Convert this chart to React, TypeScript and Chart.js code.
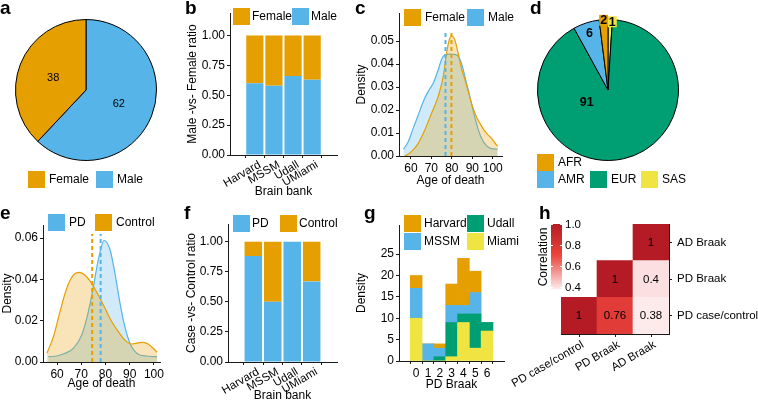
import React, { useEffect, useRef } from "react";
import { Chart, registerables } from "chart.js";

Chart.register(...registerables);

const FONT = "'Liberation Sans', Arial, Helvetica, sans-serif";
Chart.defaults.font.family = FONT;
Chart.defaults.color = "#000";

const ORANGE = "#E69F00";
const BLUE = "#56B4E9";
const GREEN = "#009E73";
const YELLOW = "#F0E442";
const ORANGE_FILL = "rgba(230,159,0,0.28)";
const BLUE_FILL = "rgba(86,180,233,0.28)";
const AXIS_COLOR = "#1a1a1a";

// ---------- a: sex ----------
const sexLabels = ["Male", "Female"];
const sexCounts = [62, 38];

// ---------- b: male vs female ratio per brain bank ----------
const banks = ["Harvard", "MSSM", "Udall", "UMiami"];
const maleRatio = [0.6, 0.58, 0.66, 0.63];
const femaleRatio = [0.4, 0.42, 0.34, 0.37];
const ratioTicks = [0, 0.25, 0.5, 0.75, 1];

// ---------- c: age of death by sex ----------
const femaleAge = [57.1, 60.3, 63.6, 66.8, 70.1, 73.3, 75.8, 77.4, 79.0, 80.1, 81.5, 83.1, 84.7, 87.2, 89.6, 92.0, 94.5, 96.9, 99.4, 101.8, 102.4];
const femaleDensity = [0.0, 0.0019, 0.0055, 0.0113, 0.0186, 0.0258, 0.0345, 0.0447, 0.0512, 0.0522, 0.0504, 0.0447, 0.0381, 0.0309, 0.0229, 0.0171, 0.013, 0.0099, 0.0077, 0.0048, 0.0042];
const maleAge = [56.4, 58.7, 61.1, 63.6, 66.0, 68.4, 70.9, 73.3, 75.0, 76.6, 79.0, 82.3, 84.7, 87.2, 89.6, 92.0, 94.5, 96.9, 99.4, 102.4];
const maleDensity = [0.0029, 0.0062, 0.012, 0.0178, 0.0236, 0.028, 0.0316, 0.0374, 0.042, 0.044, 0.0443, 0.044, 0.0403, 0.0316, 0.0229, 0.0142, 0.0077, 0.0045, 0.0032, 0.003];
const meanAgeFemale = 79.8;
const meanAgeMale = 76.9;
const sexDensityTicks = [0, 0.01, 0.02, 0.03, 0.04, 0.05];
const ageTicks = [60, 70, 80, 90, 100];

// ---------- d: ancestry ----------
const ancestry = ["SAS", "EUR", "AMR", "AFR"];
const ancestryPct = [1, 91, 6, 2];

// ---------- e: age of death by diagnosis ----------
const pdAge = [56.4, 59.9, 63.3, 66.7, 70.2, 72.9, 75.0, 77.0, 79.4, 81.9, 83.9, 86.0, 88.0, 90.1, 92.2, 94.2, 97.0, 100.4, 101.3];
const pdDensity = [0.0026, 0.0029, 0.0042, 0.0066, 0.0131, 0.0243, 0.0364, 0.0493, 0.0588, 0.0542, 0.0429, 0.0284, 0.0171, 0.009, 0.005, 0.0034, 0.0029, 0.0026, 0.0026];
const controlAge = [55.8, 58.5, 61.2, 64.0, 66.7, 69.2, 71.5, 74.3, 77.0, 79.8, 82.6, 85.3, 88.0, 90.8, 93.5, 95.6, 97.6, 100.4, 101.3];
const controlDensity = [0.0042, 0.0122, 0.0243, 0.0357, 0.0421, 0.0434, 0.0421, 0.038, 0.0324, 0.026, 0.0195, 0.0147, 0.0106, 0.0087, 0.0093, 0.0095, 0.0087, 0.0058, 0.0047];
const meanAgePD = 78.0;
const meanAgeControl = 74.5;
const diagDensityTicks = [0, 0.02, 0.04, 0.06];

// ---------- f: case vs control ratio per brain bank ----------
const pdRatio = [0.88, 0.5, 1.0, 0.67];
const controlRatio = [0.12, 0.5, 0.0, 0.33];

// ---------- g: PD Braak stage by bank ----------
const braakStages = [0, 1, 2, 3, 4, 5, 6];
const miamiCounts = [10, 0, 0, 1, 9, 3, 7];
const udallCounts = [0, 0, 1, 8, 2, 8, 2];
const mssmCounts = [7, 4, 2, 4, 2, 5, 0];
const harvardCounts = [3, 0, 1, 5, 11, 5, 0];
const braakCountTicks = [0, 5, 10, 15, 20, 25];

// ---------- h: correlation ----------
const traits = ["PD case/control", "PD Braak", "AD Braak"];
const corrPDCase = [1, 0.76, 0.38];
const corrPDBraak = [null, 1, 0.4];
const corrADBraak = [null, null, 1];
const corrRows = [corrPDCase, corrPDBraak, corrADBraak];
const corrBarTicks = [0.4, 0.6, 0.8, 1.0];
const corrMin = 0.38;
const corrMax = 1.0;

// ---------- helpers ----------
const TICK_FONT = { family: FONT, size: 12 };
const ROT_TICK_FONT = { family: FONT, size: 11.5 };
const TITLE_FONT = { family: FONT, size: 12 };

function corrColor(v: number): string {
  const stops: [number, number[]][] = [
    [0.37, [254, 240, 242]],
    [0.7, [236, 68, 60]],
    [1.0, [180, 27, 36]],
  ];
  if (v <= stops[0][0]) return `rgb(${stops[0][1].join(",")})`;
  for (let i = 1; i < stops.length; i++) {
    if (v <= stops[i][0]) {
      const [v0, c0] = stops[i - 1];
      const [v1, c1] = stops[i];
      const t = (v - v0) / (v1 - v0);
      const c = c0.map((x, k) => Math.round(x + (c1[k] - x) * t));
      return `rgb(${c.join(",")})`;
    }
  }
  return `rgb(${stops[stops.length - 1][1].join(",")})`;
}

function linAxis(o: {
  min: number; max: number; ticks: number[]; fmt: (v: number) => string; title?: string;
  size: number; horizontal?: boolean; position?: string; rotate?: number; stacked?: boolean; labelOffset?: number; padding?: number; font?: any;
}) {
  return {
    type: "linear",
    min: o.min,
    max: o.max,
    stacked: !!o.stacked,
    position: o.position,
    afterBuildTicks: (s: any) => {
      s.ticks = o.ticks.map((v) => ({ value: v }));
    },
    afterFit: (s: any) => {
      if (o.horizontal) s.height = o.size;
      else s.width = o.size;
    },
    ticks: {
      autoSkip: false,
      font: o.font || TICK_FONT,
      color: "#000",
      padding: o.padding != null ? o.padding : 2,
      labelOffset: o.labelOffset || 0,
      minRotation: o.rotate || 0,
      maxRotation: o.rotate || 0,
      callback: (v: any) => o.fmt(Number(v)),
    },
    grid: { display: true, drawOnChartArea: false, drawTicks: true, tickLength: 3, color: AXIS_COLOR, lineWidth: 1 },
    border: { display: true, color: AXIS_COLOR, width: 1 },
    title: { display: !!o.title, text: o.title || "", font: TITLE_FONT, color: "#000", padding: 0 },
  };
}

function baseOptions(padding: any, scales?: any, extra: any = {}) {
  const o: any = {
    responsive: false,
    animation: false,
    devicePixelRatio: 1,
    events: [],
    layout: { padding },
    plugins: { legend: { display: false }, tooltip: { enabled: false } },
    ...extra,
  };
  if (scales) o.scales = scales;
  return o;
}

type LegendItem = { text: string; color: string; x: number; y: number };
function boxLegend(items: LegendItem[], bg?: [number, number, number, number], gap = 4) {
  return {
    id: "boxLegend",
    afterDraw(chart: any) {
      const ctx = chart.ctx;
      ctx.save();
      if (bg) {
        ctx.fillStyle = "#fff";
        ctx.fillRect(bg[0], bg[1], bg[2], bg[3]);
      }
      ctx.font = `12px ${FONT}`;
      ctx.textBaseline = "middle";
      ctx.textAlign = "left";
      for (const it of items) {
        ctx.fillStyle = it.color;
        ctx.fillRect(it.x, it.y, 17, 17);
        ctx.fillStyle = "#000";
        ctx.fillText(it.text, it.x + 17 + gap, it.y + 9);
      }
      ctx.restore();
    },
  };
}

type SliceSpec = { r: number; deg?: number; box?: boolean };
function sliceLabels(specs: SliceSpec[], font: string) {
  return {
    id: "sliceLabels",
    afterDatasetsDraw(chart: any) {
      const ctx = chart.ctx;
      const meta = chart.getDatasetMeta(0);
      const ds = chart.data.datasets[0];
      ctx.save();
      ctx.font = font;
      ctx.textAlign = "center";
      ctx.textBaseline = "middle";
      meta.data.forEach((arc: any, i: number) => {
        const p = arc.getProps(["x", "y", "startAngle", "endAngle", "outerRadius"], true);
        const s = specs[i];
        const ang = s.deg != null ? ((s.deg - 90) * Math.PI) / 180 : (p.startAngle + p.endAngle) / 2;
        const px = p.x + Math.cos(ang) * p.outerRadius * s.r;
        const py = p.y + Math.sin(ang) * p.outerRadius * s.r;
        const txt = String(ds.data[i]);
        if (s.box) {
          const w = ctx.measureText(txt).width + 2;
          ctx.fillStyle = ds.backgroundColor[i];
          ctx.fillRect(px - w / 2, py - 5.5, w, 11);
        }
        ctx.fillStyle = "#000";
        ctx.fillText(txt, px, py + 0.5);
      });
      ctx.restore();
    },
  };
}

function densityDs(xs: number[], ys: number[], color: string, fill: string) {
  return {
    data: xs.map((x, i) => ({ x, y: ys[i] })),
    borderColor: color,
    backgroundColor: fill,
    borderWidth: 1.2,
    fill: "origin",
    pointRadius: 0,
    cubicInterpolationMode: "monotone",
  };
}

function vline(x: number, top: number, color: string) {
  return {
    data: [
      { x, y: 0 },
      { x, y: top },
    ],
    borderColor: color,
    borderWidth: 2,
    borderDash: [4, 3],
    pointRadius: 0,
    fill: false,
  };
}

const heatCells = {
  id: "heatCells",
  afterDatasetsDraw(chart: any) {
    const ctx = chart.ctx;
    ctx.save();
    ctx.font = `11.5px ${FONT}`;
    ctx.fillStyle = "#000";
    ctx.textAlign = "center";
    ctx.textBaseline = "middle";
    corrRows.forEach((row, di) => {
      const meta = chart.getDatasetMeta(di);
      meta.data.forEach((el: any, i: number) => {
        const v = row[i];
        if (v == null) return;
        const p = el.getProps(["x", "y", "base"], true);
        ctx.fillText(String(v), p.x, (p.y + p.base) / 2 + 0.5);
      });
    });
    ctx.restore();
  },
};

const colorBar = {
  id: "colorBar",
  afterDraw(chart: any) {
    const ctx = chart.ctx;
    const x0 = 551, x1 = 562, y0 = 224, y1 = 289;
    const yOf = (v: number) => y0 + ((corrMax - v) / (corrMax - corrMin)) * (y1 - y0);
    ctx.save();
    const g = ctx.createLinearGradient(0, y0, 0, y1);
    for (let k = 0; k <= 20; k++) {
      const v = corrMax - ((corrMax - corrMin) * k) / 20;
      g.addColorStop(k / 20, corrColor(v));
    }
    ctx.fillStyle = g;
    ctx.fillRect(x0, y0, x1 - x0, y1 - y0);
    ctx.strokeStyle = "#fff";
    ctx.lineWidth = 1;
    ctx.font = `11.5px ${FONT}`;
    ctx.fillStyle = "#000";
    ctx.textAlign = "left";
    ctx.textBaseline = "middle";
    for (const v of corrBarTicks) {
      const y = Math.round(yOf(v)) + 0.5;
      ctx.beginPath();
      ctx.moveTo(x0, y);
      ctx.lineTo(x0 + 2, y);
      ctx.moveTo(x1 - 2, y);
      ctx.lineTo(x1, y);
      ctx.stroke();
      ctx.fillText(v.toFixed(1), x1 + 3, y);
    }
    ctx.translate(544, 257);
    ctx.rotate(-Math.PI / 2);
    ctx.textAlign = "center";
    ctx.font = `12px ${FONT}`;
    ctx.fillText("Correlation", 0, 0);
    ctx.restore();
  },
};

function makeConfigs(): any[] {
  const barDefaults = { bar: { barPercentage: 0.9, categoryPercentage: 1, borderWidth: 0 } };

  const a = {
    type: "pie",
    data: {
      labels: sexLabels,
      datasets: [{ data: sexCounts, backgroundColor: [BLUE, ORANGE], borderColor: "#000", borderWidth: 1, hoverOffset: 0, offset: 0 }],
    },
    options: baseOptions({ left: 15, top: 19, right: 601, bottom: 242 }),
    plugins: [
      sliceLabels([{ r: 0.5 }, { r: 0.5 }], `11px ${FONT}`),
      boxLegend([
        { text: "Female", color: ORANGE, x: 28, y: 171 },
        { text: "Male", color: BLUE, x: 96, y: 171 },
      ]),
    ],
  };

  const b = {
    type: "bar",
    data: {
      datasets: [
        { label: "Male", data: banks.map((_, i) => ({ x: i + 1, y: maleRatio[i] })), backgroundColor: BLUE },
        { label: "Female", data: banks.map((_, i) => ({ x: i + 1, y: femaleRatio[i] })), backgroundColor: ORANGE },
      ],
    },
    options: baseOptions(
      { left: 185, top: 13, right: 421, bottom: 204 },
      {
        x: linAxis({ min: 0.4, max: 4.6, ticks: [1, 2, 3, 4], fmt: (v) => banks[v - 1] || "", title: "Brain bank", size: 44, horizontal: true, rotate: 30, stacked: true, labelOffset: 5, padding: 0, font: ROT_TICK_FONT }),
        y: linAxis({ min: 0, max: 1.188, ticks: ratioTicks, fmt: (v) => v.toFixed(2), title: "Male -vs- Female ratio", size: 45, stacked: true }),
      },
      { datasets: barDefaults }
    ),
    plugins: [
      boxLegend(
        [
          { text: "Female", color: ORANGE, x: 233, y: 8 },
          { text: "Male", color: BLUE, x: 292, y: 8 },
        ],
        undefined,
        2
      ),
    ],
  };

  const c = {
    type: "line",
    data: {
      datasets: [
        vline(meanAgeMale, 0.0622, BLUE),
        vline(meanAgeFemale, 0.0622, ORANGE),
        densityDs(femaleAge, femaleDensity, ORANGE, ORANGE_FILL),
        densityDs(maleAge, maleDensity, BLUE, BLUE_FILL),
      ],
    },
    options: baseOptions(
      { left: 354, top: 13, right: 256, bottom: 215 },
      {
        x: linAxis({ min: 54.2, max: 104.5, ticks: ageTicks, fmt: (v) => String(v), title: "Age of death", size: 32, horizontal: true }),
        y: linAxis({ min: 0, max: 0.0622, ticks: sexDensityTicks, fmt: (v) => v.toFixed(2), title: "Density", size: 45 }),
      }
    ),
    plugins: [
      boxLegend(
        [
          { text: "Female", color: ORANGE, x: 404, y: 9 },
          { text: "Male", color: BLUE, x: 467, y: 9 },
        ],
        [401, 0, 125, 30]
      ),
    ],
  };

  const d = {
    type: "pie",
    data: {
      labels: ancestry,
      datasets: [{ data: ancestryPct, backgroundColor: [YELLOW, GREEN, BLUE, ORANGE], borderColor: "#000", borderWidth: 1, hoverOffset: 0, offset: 0 }],
    },
    options: baseOptions({ left: 537, top: 19, right: 79, bottom: 242 }),
    plugins: [
      sliceLabels(
        [
          { r: 0.97, deg: 3.6, box: true },
          { r: 0.35, deg: 240 },
          { r: 0.85 },
          { r: 0.99, box: true },
        ],
        `bold 12.5px ${FONT}`
      ),
      boxLegend(
        [
          { text: "AFR", color: ORANGE, x: 537, y: 154 },
          { text: "AMR", color: BLUE, x: 537, y: 171 },
          { text: "EUR", color: GREEN, x: 590, y: 171 },
          { text: "SAS", color: YELLOW, x: 641, y: 171 },
        ]
      ),
    ],
  };

  const e = {
    type: "line",
    data: {
      datasets: [
        vline(meanAgePD, 0.0663, BLUE),
        vline(meanAgeControl, 0.0663, ORANGE),
        densityDs(controlAge, controlDensity, ORANGE, ORANGE_FILL),
        densityDs(pdAge, pdDensity, BLUE, BLUE_FILL),
      ],
    },
    options: baseOptions(
      { left: 0, top: 225, right: 598, bottom: 12 },
      {
        x: linAxis({ min: 54.2, max: 102.5, ticks: ageTicks, fmt: (v) => String(v), title: "Age of death", size: 29, horizontal: true }),
        y: linAxis({ min: 0, max: 0.0663, ticks: diagDensityTicks, fmt: (v) => v.toFixed(2), title: "Density", size: 43 }),
      }
    ),
    plugins: [
      boxLegend(
        [
          { text: "PD", color: BLUE, x: 48, y: 214 },
          { text: "Control", color: ORANGE, x: 95, y: 214 },
        ],
        [45, 205, 125, 29]
      ),
    ],
  };

  const f = {
    type: "bar",
    data: {
      datasets: [
        { label: "PD", data: banks.map((_, i) => ({ x: i + 1, y: pdRatio[i] })), backgroundColor: BLUE },
        { label: "Control", data: banks.map((_, i) => ({ x: i + 1, y: controlRatio[i] })), backgroundColor: ORANGE },
      ],
    },
    options: baseOptions(
      { left: 184, top: 224, right: 421, bottom: 0 },
      {
        x: linAxis({ min: 0.4, max: 4.6, ticks: [1, 2, 3, 4], fmt: (v) => banks[v - 1] || "", title: "Brain bank", size: 41, horizontal: true, rotate: 30, stacked: true, labelOffset: 5, padding: 0, font: ROT_TICK_FONT }),
        y: linAxis({ min: 0, max: 1.147, ticks: ratioTicks, fmt: (v) => v.toFixed(2), title: "Case -vs- Control ratio", size: 44, stacked: true }),
      },
      { datasets: barDefaults }
    ),
    plugins: [
      boxLegend(
        [
          { text: "PD", color: BLUE, x: 233, y: 215 },
          { text: "Control", color: ORANGE, x: 280, y: 215 },
        ],
        undefined,
        2
      ),
    ],
  };

  const gds = (label: string, counts: number[], color: string) => ({
    label,
    data: braakStages.map((s, i) => ({ x: s, y: counts[i] })),
    backgroundColor: color,
    borderWidth: 0,
    barPercentage: 1,
    categoryPercentage: 1,
  });
  const g = {
    type: "bar",
    data: {
      datasets: [
        gds("Miami", miamiCounts, YELLOW),
        gds("Udall", udallCounts, GREEN),
        gds("MSSM", mssmCounts, BLUE),
        gds("Harvard", harvardCounts, ORANGE),
      ],
    },
    options: baseOptions(
      { left: 354, top: 225, right: 254, bottom: 11 },
      {
        x: linAxis({ min: -0.82, max: 6.8, ticks: braakStages, fmt: (v) => String(v), title: "PD Braak", size: 31, horizontal: true, stacked: true }),
        y: linAxis({ min: 0, max: 31.8, ticks: braakCountTicks, fmt: (v) => String(v), title: "Density", size: 45, stacked: true }),
      }
    ),
    plugins: [
      boxLegend([
        { text: "Harvard", color: ORANGE, x: 404, y: 215 },
        { text: "Udall", color: GREEN, x: 467, y: 215 },
        { text: "MSSM", color: BLUE, x: 404, y: 233 },
        { text: "Miami", color: YELLOW, x: 467, y: 233 },
      ], undefined, 3),
    ],
  };

  const h = {
    type: "bar",
    data: {
      labels: traits,
      datasets: corrRows.map((row, r) => ({
        label: traits[r],
        data: row.map((v) => (v == null ? null : [r, r + 1])),
        backgroundColor: row.map((v) => (v == null ? "rgba(0,0,0,0)" : corrColor(v))),
        borderWidth: 0,
        grouped: false,
        barPercentage: 1,
        categoryPercentage: 1,
      })),
    },
    options: baseOptions(
      { left: 561, top: 224, right: 0, bottom: 0 },
      {
        x: {
          type: "category",
          offset: true,
          afterFit: (s: any) => {
            s.height = 69;
          },
          ticks: { font: ROT_TICK_FONT, color: "#000", minRotation: 30, maxRotation: 30, autoSkip: false, padding: 1, labelOffset: 4 },
          grid: { offset: false, display: true, drawOnChartArea: false, drawTicks: true, tickLength: 3, color: AXIS_COLOR },
          border: { display: true, color: AXIS_COLOR, width: 1 },
        },
        y: {
          ...linAxis({ min: 0, max: 3, ticks: [0.5, 1.5, 2.5], fmt: (v) => traits[Math.floor(v)] || "", size: 89, position: "right", padding: 5, font: ROT_TICK_FONT }),
        },
      }
    ),
    plugins: [heatCells, colorBar],
  };

  return [a, b, c, d, e, f, g, h];
}

const letters = [
  { t: "a", x: 0, y: -2 },
  { t: "b", x: 185, y: -2 },
  { t: "c", x: 355, y: -2 },
  { t: "d", x: 530, y: -2 },
  { t: "e", x: 0, y: 203 },
  { t: "f", x: 184, y: 203 },
  { t: "g", x: 364, y: 203 },
  { t: "h", x: 539, y: 203 },
];

export default function App() {
  const refs = useRef<(HTMLCanvasElement | null)[]>([]);
  useEffect(() => {
    const cfgs = makeConfigs();
    const charts = cfgs.map((cfg, i) => new Chart(refs.current[i] as HTMLCanvasElement, cfg));
    return () => charts.forEach((ch) => ch.destroy());
  }, []);
  return (
    <div style={{ position: "fixed", left: 0, top: 0, width: 758, height: 403, background: "#fff", fontFamily: FONT, overflow: "hidden" }}>
      {Array.from({ length: 8 }).map((_, i) => (
        <canvas
          key={i}
          ref={(el) => {
            refs.current[i] = el;
          }}
          width={758}
          height={403}
          style={{ position: "absolute", left: 0, top: 0, width: 758, height: 403 }}
        />
      ))}
      {letters.map((l) => (
        <div
          key={l.t}
          style={{ position: "absolute", left: l.x, top: l.y, fontSize: 19, fontWeight: "bold", lineHeight: "19px", color: "#000" }}
        >
          {l.t}
        </div>
      ))}
    </div>
  );
}
